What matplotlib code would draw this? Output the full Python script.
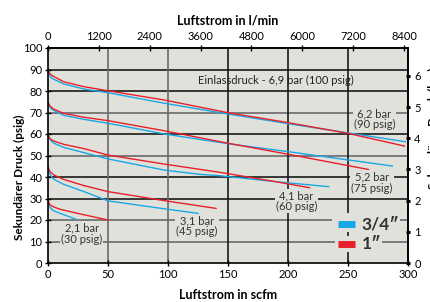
import matplotlib
matplotlib.use("Agg")
import matplotlib.pyplot as plt
from matplotlib.patches import Rectangle

plt.rcParams['font.family'] = ['Lato', 'DejaVu Sans']
plt.rcParams['font.size'] = 7

# ---------------- data (scfm -> psig) ----------------
# 6,2 bar (90 psig)
b90_x = [0, 1, 3, 5, 13, 30, 50, 97, 150, 200, 250, 298]
b90_y = [90, 87.5, 86.0, 85.4, 83.3, 80.9, 79.2, 74.3, 69.3, 64.8, 60.5, 56.4]
r90_x = [0, 1, 3, 5, 13, 30, 50, 97, 150, 200, 250, 297]
r90_y = [90, 88.5, 87.3, 86.7, 84.3, 82.0, 80.1, 75.8, 69.9, 65.3, 60.3, 54.4]
# 5,2 bar (75 psig)
b75_x = [0, 1, 3, 5, 13, 30, 50, 97, 150, 200, 287]
b75_y = [74.8, 73.0, 71.6, 70.9, 68.7, 66.8, 65.0, 60.0, 55.5, 51.8, 45.1]
r75_x = [0, 1, 3, 5, 13, 30, 50, 97, 150, 200, 267]
r75_y = [74.8, 73.5, 72.3, 71.5, 69.6, 67.8, 66.2, 61.5, 55.7, 50.6, 43.5]
# 4,1 bar (60 psig)
b60_x = [0, 1, 3, 5, 13, 30, 50, 97, 127, 143, 190, 234]
b60_y = [59.8, 58.0, 56.6, 55.7, 53.8, 51.3, 48.4, 43.2, 41.2, 40.6, 37.8, 35.5]
r60_x = [0, 1, 3, 5, 13, 30, 50, 97, 143, 190, 218]
r60_y = [59.8, 58.3, 57.3, 56.7, 55.2, 53.2, 50.2, 46.0, 42.2, 37.8, 35.0]
# 3,1 bar (45 psig)
b45_x = [0, 1, 3, 5, 13, 30, 50, 97, 125]
b45_y = [44.8, 42.0, 40.0, 38.9, 36.6, 33.2, 28.9, 25.2, 23.1]
r45_x = [0, 1, 3, 5, 13, 30, 50, 97, 140]
r45_y = [44.8, 43.0, 41.8, 40.9, 38.9, 36.0, 33.2, 29.0, 25.4]
# 2,1 bar (30 psig)
b30_x = [0, 0.5, 1.5, 4, 10, 17, 23.5]
b30_y = [30, 27.5, 26.0, 24.5, 23.1, 21.7, 20.3]
r30_x = [0, 0.5, 1.7, 5, 10, 27, 50]
r30_y = [30, 28.3, 27.0, 26.0, 25.0, 22.8, 20.0]

blue_curves = [(b90_x, b90_y), (b75_x, b75_y), (b60_x, b60_y), (b45_x, b45_y), (b30_x, b30_y)]
red_curves = [(r90_x, r90_y), (r75_x, r75_y), (r60_x, r60_y), (r45_x, r45_y), (r30_x, r30_y)]

curve_labels = ['6,2 bar\n(90 psig)', '5,2 bar\n(75 psig)', '4,1 bar\n(60 psig)',
                '3,1 bar\n(45 psig)', '2,1 bar\n(30 psig)']
label_pos = [(272, 67), (270, 37.4), (207, 28.8), (124, 17.2), (28, 13.7)]

sizes = ['3/4\u2033', '1\u2033']

# ---------------- style ----------------
bg = '#e1e1dc'
blue = '#1aa7e6'
red = '#e8202a'
dark = '#1a1a1a'
grey = '#6a6a6a'

fig = plt.figure(figsize=(4.3, 3.02), dpi=100)
ax = fig.add_axes([48 / 430, 39 / 302, 360 / 430, 215 / 302])
ax.set_facecolor(bg)
ax.set_xlim(0, 300)
ax.set_ylim(0, 100)

# gitterlinien
for v in [10, 20, 50, 70]:
    ax.axhline(v, color=grey, lw=1.2, zorder=1)
for v in [30, 40, 60, 80, 90]:
    ax.axhline(v, color=dark, lw=1.2, zorder=1)
for v in [50, 100]:
    ax.axvline(v, color=grey, lw=1.2, zorder=1)
for v in [150, 200, 250]:
    ax.axvline(v, color=dark, lw=1.2, zorder=1)

for (x, y) in blue_curves:
    ax.plot(x, y, color=blue, lw=1.0, zorder=3)
for (x, y) in red_curves:
    ax.plot(x, y, color=red, lw=1.0, zorder=3)

box = dict(facecolor=bg, edgecolor='none', pad=0.8)
for txt, (x, y) in zip(curve_labels, label_pos):
    ax.text(x, y, txt, ha='center', va='center', color='#333333', fontsize=8,
            linespacing=1.0, bbox=box, zorder=4)

ax.text(190, 85.1, 'Einlassdruck - 6,9 bar (100 psig)', ha='center', va='center',
        color='#222222', fontsize=8, zorder=4)

# legende
ax.add_patch(Rectangle((0.789, 0.144), 0.19, 0.089, transform=ax.transAxes,
                       facecolor=bg, edgecolor='none', zorder=4))
ax.add_patch(Rectangle((0.797, 0.051), 0.131, 0.075, transform=ax.transAxes,
                       facecolor=bg, edgecolor='none', zorder=4))
for col, txt, yy in zip([blue, red], sizes, [0.181, 0.087]):
    ax.plot([0.806, 0.853], [yy, yy], color=col, lw=5, solid_capstyle='butt',
            transform=ax.transAxes, zorder=5)
    ax.text(0.872, yy, txt, transform=ax.transAxes, ha='left', va='center',
            fontsize=12.5, fontweight='bold', color='#333333', zorder=5)

# achsen
for s in ax.spines.values():
    s.set_color('black')
    s.set_linewidth(1.2)
    s.set_zorder(6)

ax.set_xticks([0, 50, 100, 150, 200, 250, 300])
ax.set_yticks(range(0, 101, 10))
ax.tick_params(axis='both', direction='inout', length=4, width=1, labelsize=8, pad=2)
ax.set_xlabel('Luftstrom in scfm', fontweight='bold', fontsize=9, labelpad=7)
ax.set_ylabel('Sekundärer Druck (psig)', fontweight='bold', fontsize=8.5, labelpad=4)
ax.yaxis.set_label_coords(-0.063, 0.40)

top = ax.secondary_xaxis('top', functions=(lambda s: s * 28.317, lambda l: l / 28.317))
top.set_xticks(range(0, 8401, 1200))
top.tick_params(direction='inout', length=4, width=1, labelsize=8, pad=2)
top.set_xlabel('Luftstrom in l/min', fontweight='bold', fontsize=9, labelpad=5)
top.spines['top'].set_linewidth(1.2)

right = ax.secondary_yaxis('right', functions=(lambda p: p / 14.5, lambda b: b * 14.5))
right.set_yticks(range(0, 7))
right.tick_params(direction='inout', length=3, width=2.2, labelsize=8, pad=3)
right.spines['right'].set_linewidth(1.2)

fig.text(1.006, 0.575, 'Sekundärer Druck (bar)', rotation=90, ha='center', va='center',
         fontweight='bold', fontsize=8.5)

fig.savefig('out.png', dpi=100, facecolor='white')
